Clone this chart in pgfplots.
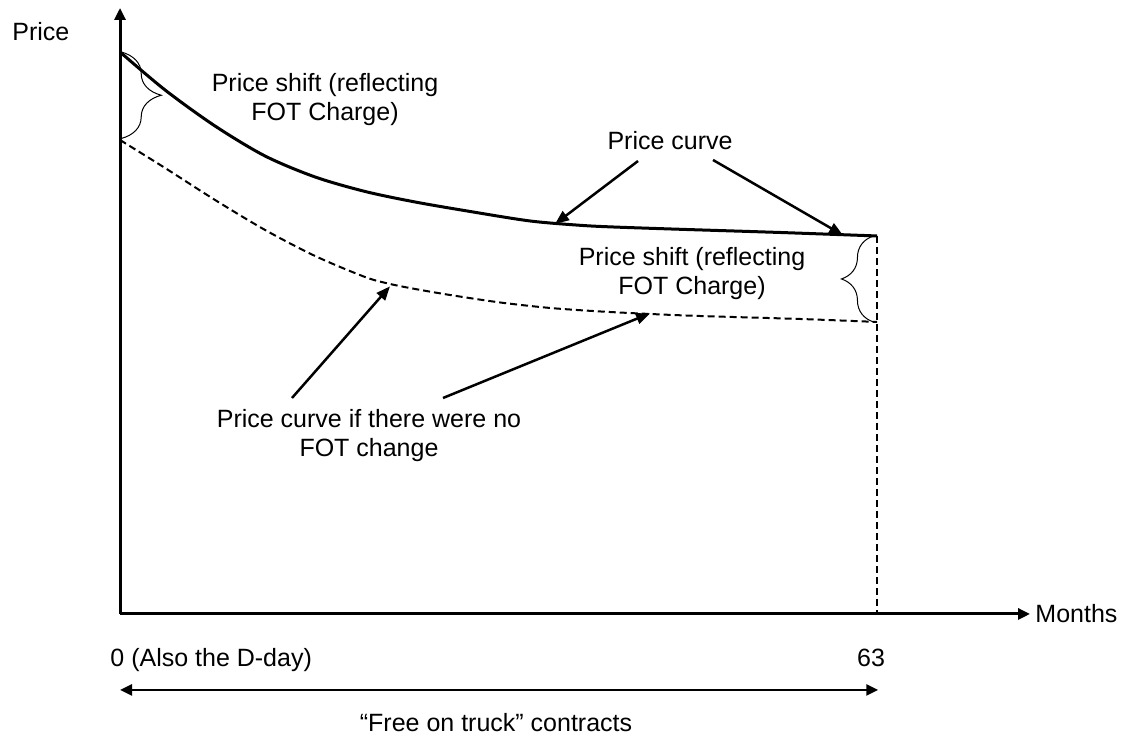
\documentclass[border=0pt]{standalone}
\usepackage{fontspec}
\setmainfont{Liberation Sans}
\usepackage{pgfplots}
\pgfplotsset{compat=1.18}
\usetikzlibrary{arrows.meta,decorations.pathreplacing}

\begin{document}
\fontsize{12.5}{14.5}\selectfont
\begin{tikzpicture}
\begin{axis}[scale only axis,width=562pt,height=368pt,
  xmin=-9.987,xmax=83.55,ymin=-21.71,ymax=109.25,
  hide axis,clip=false,
  every node/.style={font=\fontsize{12.5}{14.5}\selectfont}]
\path (rel axis cs:0,0) rectangle (rel axis cs:1,1);
% axes
\draw[line width=1.5pt,-{Triangle[length=6pt,width=5.5pt]}] (axis cs:0,0) -- (axis cs:75.73,0);
\draw[line width=1.5pt,-{Triangle[length=6pt,width=5.5pt]}] (axis cs:0,0) -- (axis cs:0,107.83);
% price curve
\addplot[line width=1.5pt,smooth,tension=0.5,black] coordinates {
 (0,100) (3.745,93.24) (7.906,86.83) (12.07,81.49) (16.23,77.76) (20.39,75.18)
 (24.55,73.31) (29.13,71.62) (34.12,69.93) (38.28,69.16) (41.03,68.86) (46.60,68.45)
 (54.93,67.88) (63,67.26)};
% price curve without FOT change
\addplot[line width=1pt,smooth,tension=0.5,black,dash pattern=on 3.5pt off 2pt] coordinates {
 (0,84.34) (3.745,79.36) (7.906,73.67) (12.07,68.33) (16.23,63.70) (20.39,59.96)
 (22.47,58.72) (24.55,57.83) (27.46,56.76) (31.62,55.43) (35.79,54.45) (39.95,53.83)
 (44.11,53.38) (48.27,53.02) (56.59,52.49) (63,51.96)};
\addplot[line width=1pt,black,dash pattern=on 3.5pt off 2pt] coordinates {(63,67.26) (63,0)};
% braces
\draw[line width=0.5pt,decorate,decoration={brace,amplitude=20pt}] (axis cs:0.1,100) -- (axis cs:0.1,84.6);
\draw[line width=0.5pt,decorate,decoration={brace,amplitude=16pt}] (axis cs:62.7,51.96) -- (axis cs:62.7,67.26);
% annotation arrows
\draw[line width=1.25pt,-{Triangle[length=7pt,width=5.5pt]}] (axis cs:43.11,80.60) -- (axis cs:36.20,69.40);
\draw[line width=1.25pt,-{Triangle[length=7pt,width=5.5pt]}] (axis cs:49.35,80.78) -- (axis cs:60.17,67.40);
\draw[line width=1.25pt,-{Triangle[length=7pt,width=5.5pt]}] (axis cs:14.31,38.43) -- (axis cs:22.47,58.30);
\draw[line width=1.25pt,-{Triangle[length=7pt,width=5.5pt]}] (axis cs:26.88,38.43) -- (axis cs:44.11,53.50);
\draw[line width=1.25pt,{Triangle[length=6pt,width=5.5pt]}-{Triangle[length=6pt,width=5.5pt]}] (axis cs:0,-13.52) -- (axis cs:63.1,-13.52);
% labels
\node[anchor=west,inner sep=0pt] at (axis cs:-8.99,103.56) {Price};
\node[align=center,inner sep=0pt] at (axis cs:17.06,91.46) {Price shift (reflecting\\FOT Charge)};
\node[inner sep=0pt] at (axis cs:45.77,84.16) {Price curve};
\node[align=center,inner sep=0pt] at (axis cs:47.60,60.50) {Price shift (reflecting\\FOT Charge)};
\node[align=center,inner sep=0pt] at (axis cs:20.72,31.67) {Price curve if there were no\\FOT change};
\node[anchor=west,inner sep=0pt] at (axis cs:76.15,0) {Months};
\node[anchor=west,inner sep=0pt] at (axis cs:-0.83,-8.19) {0 (Also the D-day)};
\node[inner sep=0pt] at (axis cs:62.5,-7.83) {63};
\node[inner sep=0pt] at (axis cs:31.29,-19.40) {“Free on truck” contracts};
\end{axis}
\end{tikzpicture}
\end{document}
